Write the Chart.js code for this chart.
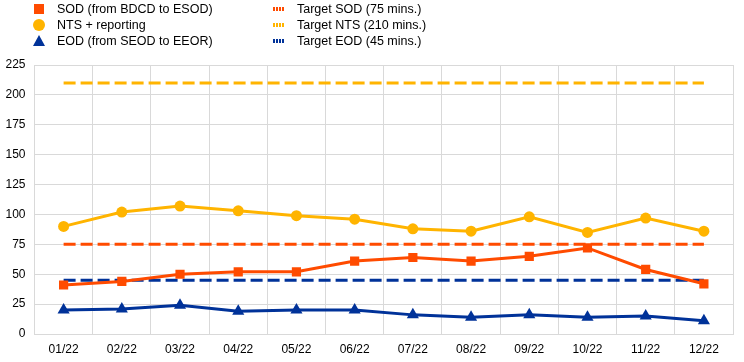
<!DOCTYPE html>
<html>
<head>
<meta charset="utf-8">
<script src="https://cdn.jsdelivr.net/npm/chart.js@4.4.1/dist/chart.umd.min.js"></script>
<style>
  html, body { margin: 0; padding: 0; background: #fff; }
  #wrap { position: relative; width: 744px; height: 362px; font-family: Arial, "Liberation Sans", sans-serif; }
  #legend { position: absolute; left: 0; top: 0; width: 744px; height: 55px; font-size: 12.5px; color: #000; }
  .item { position: absolute; height: 16px; line-height: 16px; white-space: nowrap; }
  .mark { position: absolute; }
  .txt { position: absolute; }
</style>
</head>
<body>
<div id="wrap">
  <canvas id="myChart" width="744" height="362"></canvas>
  <div id="legend"></div>
</div>
<script>
"use strict";

// data
const months = ["01/22", "02/22", "03/22", "04/22", "05/22", "06/22", "07/22", "08/22", "09/22", "10/22", "11/22", "12/22"];
const sod = [41, 44, 50, 52, 52, 61, 64, 61, 65, 72, 54, 42];
const nts = [90, 102, 107, 103, 99, 96, 88, 86, 98, 85, 97, 86];
const eod = [20, 21, 24, 19, 20, 20, 16, 14, 16, 14, 15, 11];
const targetSod = 75;
const targetNts = 210;
const targetEod = 45;
const yTicks = [0, 25, 50, 75, 100, 125, 150, 175, 200, 225];

const orange = "#FF4B00";
const yellow = "#FFB400";
const blue = "#003299";

const flat = (v) => months.map(() => v);

const datasets = [
  { label: "SOD (from BDCD to ESOD)", data: sod, borderColor: orange, backgroundColor: orange, pointStyle: "rect", pointRadius: 6.5, borderWidth: 3, order: 1 },
  { label: "NTS + reporting", data: nts, borderColor: yellow, backgroundColor: yellow, pointStyle: "circle", pointRadius: 5.5, borderWidth: 3, order: 2 },
  { label: "EOD (from SEOD to EEOR)", data: eod, borderColor: blue, backgroundColor: blue, pointStyle: "triangle", pointRadius: 7, borderWidth: 3, order: 3 },
  { label: "Target SOD (75 mins.)", data: flat(targetSod), borderColor: orange, borderDash: [12, 5], pointRadius: 0, borderWidth: 3, order: 4 },
  { label: "Target NTS (210 mins.)", data: flat(targetNts), borderColor: yellow, borderDash: [12, 5], pointRadius: 0, borderWidth: 3, order: 5 },
  { label: "Target EOD (45 mins.)", data: flat(targetEod), borderColor: blue, borderDash: [12, 5], pointRadius: 0, borderWidth: 3, order: 6 }
];

// legend (html, two columns)
const legendEl = document.getElementById("legend");
datasets.forEach((ds, i) => {
  const col = i < 3 ? 0 : 1;
  const row = i % 3;
  const item = document.createElement("div");
  item.className = "item";
  item.style.left = (col ? 270 : 30) + "px";
  item.style.top = (1 + row * 16) + "px";
  const mark = document.createElement("div");
  mark.className = "mark";
  if (ds.pointStyle === "rect") {
    Object.assign(mark.style, { left: "4px", top: "3px", width: "10px", height: "10px", background: ds.borderColor });
  } else if (ds.pointStyle === "circle") {
    Object.assign(mark.style, { left: "3px", top: "2px", width: "12px", height: "12px", borderRadius: "50%", background: ds.borderColor });
  } else if (ds.pointStyle === "triangle") {
    Object.assign(mark.style, { left: "3px", top: "2px", width: "0", height: "0", borderLeft: "6px solid transparent", borderRight: "6px solid transparent", borderBottom: "11px solid " + ds.borderColor });
  } else {
    Object.assign(mark.style, { left: "3px", top: "6px", width: "12px", height: "4px",
      background: "repeating-linear-gradient(90deg, " + ds.borderColor + " 0 2px, transparent 2px 3px)" });
  }
  const txt = document.createElement("div");
  txt.className = "txt";
  txt.style.left = "27px";
  txt.textContent = ds.label;
  item.appendChild(mark);
  item.appendChild(txt);
  legendEl.appendChild(item);
});

// chart
const ctx = document.getElementById("myChart").getContext("2d");
const myChart = new Chart(ctx, {
  type: "line",
  data: {
    labels: months,
    datasets: datasets.map((ds) => Object.assign({ fill: false, tension: 0, pointBorderWidth: 0, pointHoverRadius: 0 }, ds))
  },
  options: {
    responsive: false,
    animation: false,
    layout: { padding: { top: 65, right: 11, left: 0, bottom: 0 } },
    plugins: { legend: { display: false }, tooltip: { enabled: false } },
    scales: {
      x: {
        offset: true,
        grid: { offset: true, color: "#d9d9d9", lineWidth: 1, drawTicks: false },
        border: { color: "#d9d9d9" },
        ticks: { color: "#000", font: { family: "Arial, 'Liberation Sans'", size: 12 }, padding: 8, maxRotation: 0, autoSkip: false },
        afterFit: (scale) => { scale.height = 28; }
      },
      y: {
        min: 0,
        max: 225,
        afterBuildTicks: (scale) => { scale.ticks = yTicks.map((v) => ({ value: v })); },
        grid: { color: "#d9d9d9", lineWidth: 1, drawTicks: false },
        border: { color: "#d9d9d9" },
        ticks: { color: "#000", font: { family: "Arial, 'Liberation Sans'", size: 12 }, padding: 9 },
        afterFit: (scale) => { scale.width = 34.5; }
      }
    }
  }
});
</script>
</body>
</html>
